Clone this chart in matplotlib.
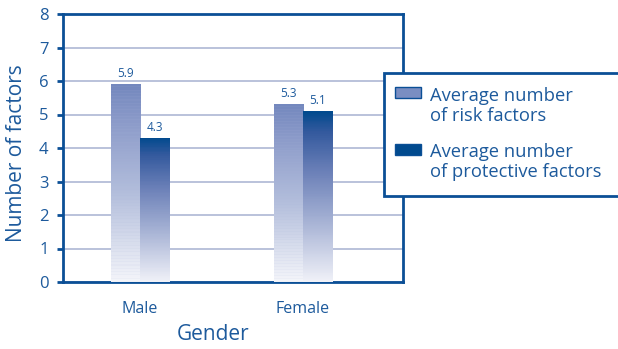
import numpy as np
import matplotlib
matplotlib.use("Agg")
import matplotlib.pyplot as plt
from matplotlib.patches import Rectangle
from matplotlib.colors import LinearSegmentedColormap

categories = ["Male", "Female"]
risk = [5.9, 5.3]
protective = [4.3, 5.1]
series_labels = ["Average number\nof risk factors", "Average number\nof protective factors"]
yticks = [0, 1, 2, 3, 4, 5, 6, 7, 8]

W, H = 618, 349
DPI = 100
plt.rcParams['font.family'] = ['Open Sans', 'DejaVu Sans']

TXT = '#1d5a9c'
SPINE = '#0b4f96'
GRID = '#b4bdd8'
RISK_TOP = '#7a8ec2'
PROT_TOP = '#014a8e'

fig = plt.figure(figsize=(W / DPI, H / DPI), dpi=DPI)
fig.patch.set_facecolor('white')

def fx(px):
    return px / W

def fy(py):
    return 1 - py / H

ax_l, ax_r, ax_t, ax_b = 63, 403, 14, 282
ax = fig.add_axes([fx(ax_l), fy(ax_b), (ax_r - ax_l) / W, (ax_b - ax_t) / H])

x = np.arange(len(categories))
bw = 0.18

risk_cmap = LinearSegmentedColormap.from_list(
    'r', [(0, '#f4f5fa'), (0.45, '#b3bedc'), (0.8, '#8d9cca'), (1.0, '#7488be')])
prot_cmap = LinearSegmentedColormap.from_list(
    'p', [(0, '#f0f1f8'), (0.35, '#a7b3d5'), (0.65, '#6b80b8'), (0.88, '#345a9e'), (1.0, '#014a8e')])

def gradient_bars(bars, cmap, stripes=False):
    for b in bars:
        x0, w, h = b.get_x(), b.get_width(), b.get_height()
        n = 180
        grad = np.linspace(0, 1, n)
        if stripes:
            mod = np.where((np.arange(n) % 3) == 0, 0.07, 0.0)
            grad = np.clip(grad + mod * (1 - grad) * 0.6 - mod * grad * 0.5, 0, 1)
        img = grad.reshape(-1, 1)
        im = ax.imshow(img, extent=[x0, x0 + w, 0, h], origin='lower', aspect='auto',
                       cmap=cmap, vmin=0, vmax=1, zorder=3, interpolation='nearest')
        im.set_clip_path(b)
        b.set_facecolor('none')
        b.set_edgecolor('none')

b1 = ax.bar(x - bw / 2, risk, bw, zorder=3)
b2 = ax.bar(x + bw / 2, protective, bw, zorder=3)
gradient_bars(b1, risk_cmap, stripes=True)
gradient_bars(b2, prot_cmap)
ax.set_xlim(-0.472, 1.613)
ax.set_ylim(0, 8)

for bars, vals in ((b1, risk), (b2, protective)):
    for b, v in zip(bars, vals):
        ax.text(b.get_x() + b.get_width() / 2, v + 0.12, f"{v:.1f}", ha='center', va='bottom',
                fontsize=8.5, color=TXT, zorder=5)

ax.set_yticks(yticks)
ax.set_yticklabels([str(t) for t in yticks])
ax.set_xticks(x)
ax.set_xticklabels(categories)
ax.yaxis.grid(True, color=GRID, lw=1.3, zorder=0)
ax.set_axisbelow(True)
ax.tick_params(axis='y', length=4.5, width=2, color=SPINE, labelcolor=TXT, labelsize=12, pad=6)
ax.tick_params(axis='x', length=0, labelcolor=TXT, labelsize=11.5, pad=14)
for s in ax.spines.values():
    s.set_color(SPINE)
    s.set_linewidth(2)

fig.text(fx(17), fy(153), "Number of factors", rotation=90, ha='center', va='center',
         fontsize=15, color=TXT)
fig.text(fx(213), fy(334), "Gender", ha='center', va='center', fontsize=15, color=TXT)

# legend box
lg = Rectangle((fx(384), fy(196)), fx(650 - 384), (196 - 73) / H, transform=fig.transFigure,
               facecolor='white', edgecolor=SPINE, lw=2, zorder=10, clip_on=False)
fig.patches.append(lg)
for (yy, col, lab, ty) in ((93, RISK_TOP, series_labels[0], 106),
                           (150, PROT_TOP, series_labels[1], 162)):
    fig.patches.append(Rectangle((fx(395), fy(yy + 5)), fx(26), 11 / H, transform=fig.transFigure,
                                 facecolor=col, edgecolor=SPINE, lw=1, zorder=11))
    fig.text(fx(430), fy(ty), lab, ha='left', va='center', fontsize=13.2, color=TXT,
             linespacing=1.12, zorder=12)

fig.savefig('out.png', dpi=DPI, facecolor='white')
